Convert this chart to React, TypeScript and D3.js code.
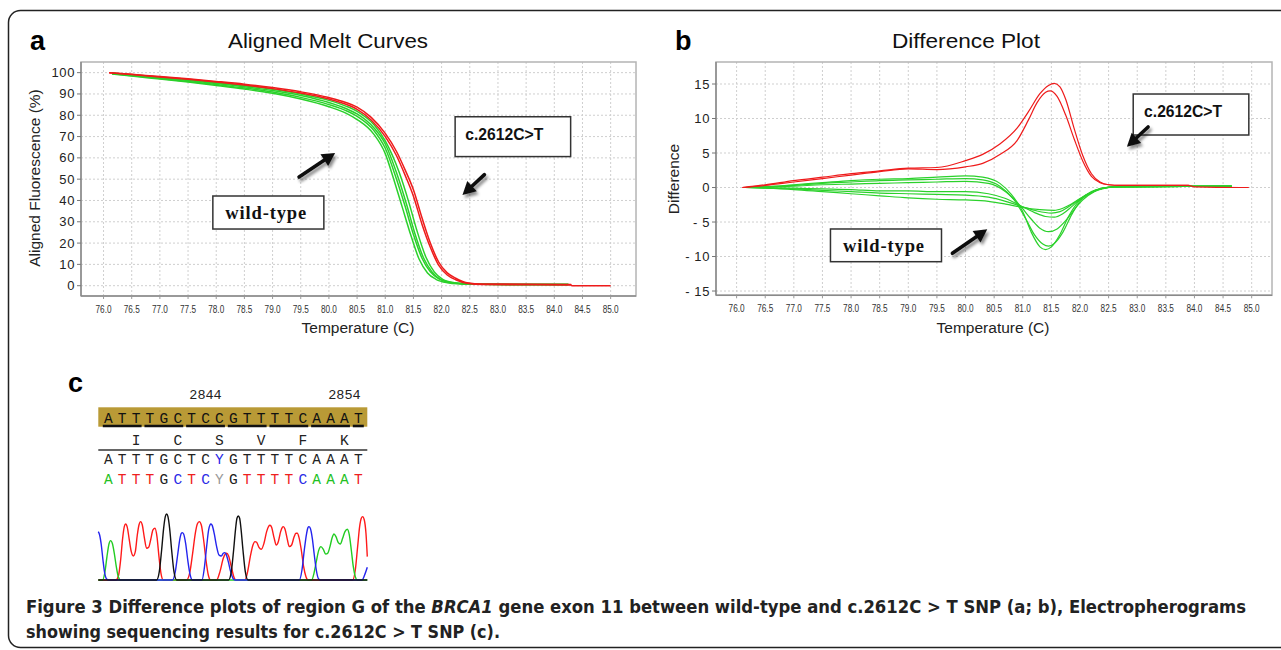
import React from "react";
import * as d3 from "d3";

type Pt = [number, number];

// ---------- axis ticks ----------
const tempTicks = [76.0, 76.5, 77.0, 77.5, 78.0, 78.5, 79.0, 79.5, 80.0, 80.5, 81.0, 81.5, 82.0, 82.5, 83.0, 83.5, 84.0, 84.5, 85.0];
const meltTicks = [0, 10, 20, 30, 40, 50, 60, 70, 80, 90, 100];
const diffTicks = [-15, -10, -5, 0, 5, 10, 15];

// ---------- panel a: aligned melt curves ----------
const meltWild1: Pt[] = [[76.15,99.4],[76.5,98.4],[77,97.0],[77.5,95.6],[78,94.0],[78.5,92.3],[79,90.3],[79.5,87.6],[80,84.0],[80.3,81.0],[80.5,78.0],[80.8,71.0],[81.0,62.0],[81.15,50.0],[81.3,37.0],[81.45,24.0],[81.6,12.5],[81.75,6.0],[81.9,3.0],[82.1,1.4],[82.3,0.9],[82.7,0.7],[84.25,0.5]];
const meltWild2: Pt[] = [[76.15,99.6],[76.5,98.6],[77,97.3],[77.5,95.9],[78,94.4],[78.5,92.8],[79,90.9],[79.5,88.4],[80,85.0],[80.3,82.2],[80.5,79.5],[80.8,72.8],[81.0,64.5],[81.2,50.0],[81.35,37.5],[81.5,24.0],[81.65,13.0],[81.8,6.5],[81.95,3.2],[82.15,1.5],[82.35,0.9],[82.7,0.7],[84.25,0.5]];
const meltWild3: Pt[] = [[76.15,99.7],[76.5,98.8],[77,97.6],[77.5,96.3],[78,94.9],[78.5,93.4],[79,91.6],[79.5,89.3],[80,86.0],[80.3,83.2],[80.5,80.6],[80.8,74.0],[81.0,66.5],[81.2,53.0],[81.38,38.0],[81.52,25.0],[81.68,13.0],[81.83,6.5],[81.98,3.0],[82.2,1.4],[82.4,0.9],[82.7,0.7],[84.25,0.5]];
const meltWild4: Pt[] = [[76.15,99.8],[76.5,99.0],[77,97.9],[77.5,96.7],[78,95.3],[78.5,93.9],[79,92.2],[79.5,90.0],[80,87.0],[80.3,84.3],[80.5,81.8],[80.8,75.5],[81.0,68.0],[81.25,53.0],[81.42,39.0],[81.56,26.0],[81.72,13.5],[81.87,6.5],[82.02,3.0],[82.22,1.4],[82.45,0.9],[82.7,0.7],[84.25,0.5]];
const meltMut1: Pt[] = [[76.1,100],[76.5,99.2],[77,98.2],[77.5,97.1],[78,95.9],[78.5,94.6],[79,93.0],[79.5,91.0],[80,88.3],[80.3,86.0],[80.5,83.8],[80.75,79.0],[81.0,71.5],[81.2,63.0],[81.35,54.5],[81.5,45.0],[81.65,32.0],[81.8,20.0],[81.95,11.0],[82.1,6.0],[82.25,3.5],[82.45,1.4],[82.73,0.8],[84.3,0.6]];
const meltMut2: Pt[] = [[76.1,100],[76.5,99.1],[77,98.0],[77.5,96.9],[78,95.6],[78.5,94.2],[79,92.5],[79.5,90.4],[80,87.6],[80.3,85.2],[80.5,82.8],[80.75,77.8],[81.0,70.0],[81.2,61.0],[81.35,52.0],[81.5,42.0],[81.65,29.0],[81.8,18.0],[81.95,9.5],[82.1,5.0],[82.25,2.8],[82.45,1.1],[82.73,0.5],[84.3,0.3],[84.31,0.0],[85.0,0.0]];

// ---------- panel b: difference plot ----------
const diffMut1: Pt[] = [[76.1,0],[76.5,0.4],[77,1.0],[77.5,1.5],[78,2.0],[78.5,2.4],[79,2.8],[79.5,2.9],[80,3.9],[80.3,4.8],[80.6,6.3],[80.9,8.6],[81.1,11.0],[81.3,13.6],[81.45,14.8],[81.55,15.1],[81.65,14.6],[81.75,12.8],[81.9,8.5],[82.05,4.6],[82.2,2.0],[82.35,0.8],[82.5,0.4],[82.7,0.3],[83.9,0.3],[84.0,0.1],[84.95,0.0]];
const diffMut2: Pt[] = [[76.1,0],[76.5,0.3],[77,0.8],[77.5,1.3],[78,1.8],[78.5,2.3],[79,2.7],[79.5,2.6],[80,3.0],[80.3,3.5],[80.6,4.8],[80.9,6.8],[81.1,9.8],[81.25,12.3],[81.4,13.8],[81.48,14.0],[81.6,13.2],[81.75,10.5],[81.9,7.0],[82.05,3.8],[82.2,1.6],[82.35,0.7],[82.5,0.4],[82.7,0.3],[83.9,0.3]];
const diffWild1: Pt[] = [[76.15,0],[76.5,0.1],[77,0.4],[77.5,0.7],[78,1.0],[78.5,1.2],[79,1.3],[79.5,1.5],[80,1.7],[80.3,1.5],[80.6,0.6],[80.8,-1.0],[81.0,-3.5],[81.15,-6.5],[81.3,-8.6],[81.4,-9.0],[81.5,-8.6],[81.65,-6.8],[81.8,-4.2],[82.0,-1.8],[82.2,-0.6],[82.4,-0.1],[82.6,0.1],[84.65,0.2]];
const diffWild2: Pt[] = [[76.15,0],[76.5,0.1],[77,0.3],[77.5,0.6],[78,0.8],[78.5,1.0],[79,1.1],[79.5,1.2],[80,1.3],[80.3,1.1],[80.6,0.2],[80.85,-1.8],[81.05,-4.5],[81.2,-6.8],[81.35,-8.2],[81.45,-8.5],[81.55,-8.1],[81.7,-6.5],[81.85,-4.0],[82.0,-2.0],[82.2,-0.7],[82.4,-0.1],[82.6,0.1],[84.65,0.2]];
const diffWild3: Pt[] = [[76.15,0],[77,0.2],[77.5,0.4],[78,0.5],[78.5,0.6],[79,0.7],[79.5,0.8],[80,0.9],[80.4,0.6],[80.7,-0.6],[80.95,-2.6],[81.15,-4.6],[81.3,-5.9],[81.45,-6.4],[81.6,-6.0],[81.75,-4.8],[81.9,-3.2],[82.05,-1.8],[82.25,-0.6],[82.45,-0.1],[82.6,0.1],[84.65,0.2]];
const diffWild4: Pt[] = [[76.15,0],[76.5,0],[77,-0.1],[77.5,-0.2],[78,-0.3],[78.5,-0.5],[79,-0.5],[79.5,-0.6],[80,-0.6],[80.4,-0.9],[80.7,-1.6],[80.95,-2.6],[81.2,-3.6],[81.4,-4.2],[81.55,-4.3],[81.7,-3.8],[81.85,-2.8],[82.0,-1.7],[82.2,-0.7],[82.4,-0.1],[82.6,0.1],[84.65,0.2]];
const diffWild5: Pt[] = [[76.15,0],[76.5,-0.1],[77,-0.2],[77.5,-0.4],[78,-0.6],[78.5,-0.8],[79,-0.9],[79.5,-1.0],[80,-1.1],[80.4,-1.4],[80.7,-2.0],[81.0,-2.8],[81.25,-3.4],[81.5,-3.7],[81.65,-3.5],[81.8,-2.8],[81.95,-1.9],[82.15,-0.9],[82.35,-0.2],[82.6,0.1],[84.65,0.2]];
const diffWild6: Pt[] = [[76.15,0],[76.5,-0.1],[77,-0.3],[77.5,-0.6],[78,-0.9],[78.5,-1.2],[79,-1.5],[79.5,-1.7],[80,-1.8],[80.4,-2.0],[80.7,-2.4],[81.0,-2.9],[81.3,-3.2],[81.55,-3.3],[81.7,-3.0],[81.85,-2.4],[82.0,-1.6],[82.2,-0.7],[82.4,-0.1],[82.6,0.1],[84.65,0.2]];

// ---------- panel c: sequence ----------
const refSeq = "ATTTGCTCCGTTTTCAAAT".split("");
const readSeq = "ATTTGCTCYGTTTTCAAAT".split("");
const aminoAcids = ["I", "C", "S", "V", "F", "K"];
const aminoIdx = [2, 5, 8, 11, 14, 17];
const codonStart = [0, 3, 6, 9, 12, 15, 18];
const posLabels = ["2844", "2854"];
const posIdx = [7, 17];

// chromatogram traces: [scan, signal]
const traceRed: Pt[] = [[115,0],[168,0],[176,15],[182,60],[188,125],[193,160],[197,168],[202,158],[208,120],[214,85],[220,72],[226,85],[232,135],[237,165],[242,175],[247,165],[253,128],[260,95],[266,98],[272,120],[279,150],[285,155],[291,130],[297,70],[303,20],[310,0],[380,0],[390,25],[398,80],[406,140],[412,168],[418,175],[424,165],[431,120],[438,60],[445,15],[452,0],[470,0],[480,25],[490,65],[496,78],[500,80],[506,72],[514,40],[522,8],[528,0],[555,0],[563,25],[571,70],[579,105],[585,115],[590,113],[597,98],[604,92],[612,110],[620,145],[626,161],[630,164],[635,158],[642,128],[649,105],[655,115],[662,145],[667,158],[670,160],[675,153],[682,122],[688,100],[695,105],[702,128],[708,140],[712,140],[717,128],[724,90],[731,40],[738,10],[745,0],[878,0],[886,30],[893,100],[899,160],[904,185],[908,190],[913,180],[918,140],[922,70]];
const traceGreen: Pt[] = [[115,0],[128,0],[135,25],[141,70],[147,108],[152,118],[157,110],[163,80],[169,40],[175,10],[182,0],[755,0],[762,20],[769,55],[776,88],[783,100],[790,92],[797,78],[803,80],[810,100],[816,125],[822,138],[828,130],[835,112],[841,108],[848,125],[855,145],[862,152],[868,135],[874,90],[880,40],[886,10],[892,0],[922,0]];
const traceBlue: Pt[] = [[115,145],[119,135],[124,105],[129,60],[134,22],[140,3],[146,0],[338,0],[346,25],[353,75],[360,125],[364,140],[367,142],[371,138],[377,110],[384,55],[390,18],[397,0],[426,0],[433,35],[440,100],[446,150],[450,165],[453,168],[457,163],[463,138],[470,100],[477,75],[484,72],[490,80],[494,82],[499,76],[505,55],[512,25],[519,5],[525,0],[718,0],[726,30],[733,90],[740,140],[744,157],[747,160],[751,155],[757,125],[763,75],[769,30],[775,5],[781,0],[906,0],[914,15],[922,38]];
const traceBlack: Pt[] = [[115,0],[290,0],[298,25],[305,90],[311,155],[316,190],[320,198],[324,190],[329,155],[335,90],[342,25],[350,0],[506,0],[514,25],[521,90],[527,155],[531,185],[535,192],[539,185],[543,155],[549,90],[556,25],[564,0],[922,0]];

// ---------- annotations (data units) ----------
const meltMutBox = [82.24, 84.29, 79.3, 60.6];
const meltMutText: Pt = [82.42, 68.3];
const meltWildBox = [77.94, 79.91, 42.1, 26.6];
const meltWildText: Pt = [78.16, 31.3];
const meltArrows = [[79.47, 51.0, 80.11, 62.3], [82.76, 52.1, 82.37, 42.6]];
const diffMutBox = [82.93, 84.95, 13.55, 7.61];
const diffMutText: Pt = [83.12, 10.2];
const diffWildBox = [77.64, 79.58, -6.01, -10.75];
const diffWildText: Pt = [77.86, -9.3];
const diffArrows = [[83.19, 8.77, 82.82, 5.91], [79.77, -9.54, 80.38, -6.06]];

const RED = "#ee1b1b";
const GREEN = "#2bd12b";
const SANS = "'Liberation Sans', Arial, sans-serif";
const NARROW = "'Liberation Sans Narrow', 'Arial Narrow', 'DejaVu Sans Condensed', 'Liberation Sans', sans-serif";
const SERIF = "'Liberation Serif', 'Times New Roman', serif";
const MONO = "'Liberation Mono', 'Courier New', monospace";

const baseColor: Record<string, string> = { A: "#22bf22", T: "#ee2020", G: "#202020", C: "#2a2ae6", Y: "#9a9a9a" };

type Scale = d3.ScaleLinear<number, number>;

function Arrow({ x, y, a }: { x: Scale; y: Scale; a: number[] }) {
  const x1 = x(a[0]), y1 = y(a[1]), x2 = x(a[2]), y2 = y(a[3]);
  const ang = Math.atan2(y2 - y1, x2 - x1);
  const hl = 13, hw = 7;
  const bx = x2 - hl * Math.cos(ang), by = y2 - hl * Math.sin(ang);
  const px = -Math.sin(ang) * hw, py = Math.cos(ang) * hw;
  return (
    <g filter="url(#shadow)">
      <line x1={x1} y1={y1} x2={bx + 2 * Math.cos(ang)} y2={by + 2 * Math.sin(ang)} stroke="#111" strokeWidth={3.6} strokeLinecap="round" />
      <polygon points={`${x2},${y2} ${bx + px},${by + py} ${bx - px},${by - py}`} fill="#111" />
    </g>
  );
}

function Panel(props: {
  x: Scale; y: Scale; yTicks: number[]; fmt: (v: number) => string;
  green: Pt[][]; red: Pt[][]; sw: number;
  title: string; titleX: number; titleW: number; letter: string; letterX: number;
  yLabel: string; yLabelX: number; yLabelY: number; xLabelX: number;
  mutBox: number[]; mutText: Pt; wildBox: number[]; wildText: Pt; arrows: number[][];
}) {
  const { x, y } = props;
  const [x0, x1] = x.range();
  const [y0, y1] = y.range();
  const line = d3.line<Pt>().x(d => x(d[0])).y(d => y(d[1])).curve(d3.curveMonotoneX);
  const box = (b: number[]) => ({ x: x(b[0]), y: y(b[2]), width: x(b[1]) - x(b[0]), height: y(b[3]) - y(b[2]) });
  return (
    <g>
      <text x={props.letterX} y={50} fontFamily={SANS} fontWeight="bold" fontSize={27}>{props.letter}</text>
      <text x={props.titleX} y={48} fontFamily={SANS} fontSize={20.5} textAnchor="middle" fill="#111" textLength={props.titleW} lengthAdjust="spacingAndGlyphs">{props.title}</text>
      {/* grid */}
      {tempTicks.map(t => (
        <line key={"gx" + t} x1={x(t)} x2={x(t)} y1={y1} y2={y0} stroke="#cfcfcf" strokeWidth={1} strokeDasharray="2,2" />
      ))}
      {props.yTicks.map(t => (
        <line key={"gy" + t} x1={x0} x2={x1} y1={y(t)} y2={y(t)} stroke="#cfcfcf" strokeWidth={1} strokeDasharray="2,2" />
      ))}
      {/* frame */}
      <rect x={x0} y={y1} width={x1 - x0} height={y0 - y1} fill="none" stroke="#b4b4b4" strokeWidth={1.5} />
      <line x1={x0} x2={x0} y1={y1} y2={y0} stroke="#8a8a8a" strokeWidth={1.5} />
      <line x1={x0} x2={x1} y1={y0} y2={y0} stroke="#8a8a8a" strokeWidth={1.5} />
      {/* y ticks */}
      {props.yTicks.map(t => (
        <g key={"yt" + t}>
          <line x1={x0 - 4} x2={x0} y1={y(t)} y2={y(t)} stroke="#777" strokeWidth={1} />
          <text x={x0 - 6} y={y(t) + 4.5} fontFamily={SANS} fontSize={13} letterSpacing={0.6} textAnchor="end" fill="#222">{props.fmt(t)}</text>
        </g>
      ))}
      {/* x ticks */}
      {tempTicks.map(t => (
        <g key={"xt" + t}>
          <line x1={x(t)} x2={x(t)} y1={y0} y2={y0 + 3} stroke="#999" strokeWidth={1} />
          <text x={x(t)} y={y0 + 16.5} fontFamily={SANS} fontSize={10} textAnchor="middle" fill="#333" textLength={16} lengthAdjust="spacingAndGlyphs">{t.toFixed(1)}</text>
        </g>
      ))}
      <text x={props.xLabelX} y={333} fontFamily={SANS} fontSize={15.5} textAnchor="middle" fill="#222">Temperature (C)</text>
      <text transform={`translate(${props.yLabelX},${props.yLabelY}) rotate(-90)`} fontFamily={SANS} fontSize={15.5} textAnchor="middle" fill="#222">{props.yLabel}</text>
      {/* curves */}
      {props.green.map((c, i) => (
        <path key={"g" + i} d={line(c) || ""} fill="none" stroke={GREEN} strokeWidth={props.sw} />
      ))}
      {props.red.map((c, i) => (
        <path key={"r" + i} d={line(c) || ""} fill="none" stroke={RED} strokeWidth={props.sw} />
      ))}
      {/* annotations */}
      <rect {...box(props.mutBox)} fill="#fff" stroke="#333" strokeWidth={1.5} />
      <text x={x(props.mutText[0])} y={y(props.mutText[1])} fontFamily={SANS} fontWeight="bold" fontSize={16.5} fill="#111" textLength={78} lengthAdjust="spacingAndGlyphs">c.2612C&gt;T</text>
      <rect {...box(props.wildBox)} fill="#fff" stroke="#333" strokeWidth={1.5} />
      <text x={x(props.wildText[0])} y={y(props.wildText[1])} fontFamily={SERIF} fontWeight="bold" fontSize={18.5} fill="#111" textLength={81} lengthAdjust="spacing">wild-type</text>
      {props.arrows.map((a, i) => <Arrow key={"a" + i} x={x} y={y} a={a} />)}
    </g>
  );
}

function Sequence() {
  const lx = d3.scalePoint<number>().domain(refSeq.map((_, i) => i)).range([108.3, 358.3]);
  const cx = d3.scaleLinear().domain([115, 922]).range([98.3, 367.3]);
  const cy = d3.scaleLinear().domain([0, 200]).range([580, 513.3]);
  const line = d3.line<Pt>().x(d => cx(d[0])).y(d => cy(d[1])).curve(d3.curveMonotoneX);
  const barL = cx(115), barR = cx(922);
  const fs = 14.5;
  return (
    <g>
      <text x={68} y={392} fontFamily={SANS} fontWeight="bold" fontSize={27}>c</text>
      {posLabels.map((p, i) => (
        <text key={p} x={lx(posIdx[i])} y={399} fontFamily={MONO} fontSize={13.5} textAnchor="middle" fill="#222">{p}</text>
      ))}
      <rect x={barL} y={407.3} width={barR - barL} height={19.4} fill="#b99a36" />
      {refSeq.map((b, i) => (
        <text key={"r" + i} x={lx(i)} y={422.5} fontFamily={MONO} fontSize={fs} textAnchor="middle" fill="#111">{b}</text>
      ))}
      {codonStart.map(s => {
        const e = Math.min(s + 2, refSeq.length - 1);
        return <line key={"u" + s} x1={(lx(s) as number) - 5.5} x2={(lx(e) as number) + 5.5} y1={426} y2={426} stroke="#111" strokeWidth={2.6} />;
      })}
      {aminoAcids.map((a, i) => (
        <text key={"aa" + i} x={lx(aminoIdx[i])} y={445} fontFamily={MONO} fontSize={fs} textAnchor="middle" fill="#222">{a}</text>
      ))}
      <line x1={barL} x2={barR} y1={450} y2={450} stroke="#333" strokeWidth={1.5} />
      {readSeq.map((b, i) => (
        <text key={"k" + i} x={lx(i)} y={463.5} fontFamily={MONO} fontSize={fs} textAnchor="middle" fill={b === "Y" ? "#2a2ae6" : "#222"}>{b}</text>
      ))}
      {readSeq.map((b, i) => (
        <text key={"c" + i} x={lx(i)} y={483.5} fontFamily={MONO} fontSize={fs} textAnchor="middle" fill={baseColor[b]}>{b}</text>
      ))}
      <path d={line(traceRed) || ""} fill="none" stroke="#ff1a1a" strokeWidth={1.4} />
      <path d={line(traceGreen) || ""} fill="none" stroke="#22cc22" strokeWidth={1.4} />
      <path d={line(traceBlue) || ""} fill="none" stroke="#2424ee" strokeWidth={1.4} />
      <path d={line(traceBlack) || ""} fill="none" stroke="#111" strokeWidth={1.4} />
    </g>
  );
}

export default function App() {
  const meltX = d3.scaleLinear().domain([75.6, 85.45]).range([81, 636]);
  const meltY = d3.scaleLinear().domain([-4.84, 105]).range([296, 62]);
  const diffX = d3.scaleLinear().domain([75.64, 85.355]).range([716, 1272]);
  const diffY = d3.scaleLinear().domain([-15.62, 18.19]).range([295.3, 62]);
  return (
    <svg width={1281} height={650} style={{ position: "absolute", left: 0, top: 0, background: "#fff" }}>
      <defs>
        <filter id="shadow" x="-50%" y="-50%" width="200%" height="200%">
          <feDropShadow dx={2} dy={3} stdDeviation={1.6} floodColor="#000" floodOpacity={0.45} />
        </filter>
      </defs>
      <rect x={0} y={0} width={1281} height={650} fill="#fff" />
      <rect x={8.5} y={10.5} width={1300} height={637} rx={12} fill="none" stroke="#222" strokeWidth={1.5} />
      <Panel x={meltX} y={meltY} yTicks={meltTicks} fmt={v => String(v)}
        green={[meltWild1, meltWild2, meltWild3, meltWild4]} red={[meltMut1, meltMut2]} sw={1.5}
        title="Aligned Melt Curves" titleX={328} titleW={200} letter="a" letterX={30}
        yLabel="Aligned Fluorescence (%)" yLabelX={40} yLabelY={178} xLabelX={358}
        mutBox={meltMutBox} mutText={meltMutText} wildBox={meltWildBox} wildText={meltWildText} arrows={meltArrows} />
      <Panel x={diffX} y={diffY} yTicks={diffTicks} fmt={v => (v < 0 ? `- ${Math.abs(v)}` : String(v))}
        green={[diffWild1, diffWild2, diffWild3, diffWild4, diffWild5, diffWild6]} red={[diffMut1, diffMut2]} sw={1.2}
        title="Difference Plot" titleX={966} titleW={148} letter="b" letterX={675}
        yLabel="Difference" yLabelX={679} yLabelY={179} xLabelX={993}
        mutBox={diffMutBox} mutText={diffMutText} wildBox={diffWildBox} wildText={diffWildText} arrows={diffArrows} />
      <Sequence />
      <text x={26} y={613} fontFamily={NARROW} fontSize={17} fontWeight="bold" fill="#222" textLength={1220} lengthAdjust="spacingAndGlyphs">
        <tspan>Figure 3</tspan>
        <tspan> Difference plots of region G of the </tspan>
        <tspan fontStyle="italic">BRCA1</tspan>
        <tspan> gene exon 11 between wild-type and c.2612C &gt; T SNP (a; b), Electropherograms</tspan>
      </text>
      <text x={26} y={638} fontFamily={NARROW} fontSize={17} fontWeight="bold" fill="#222" textLength={474} lengthAdjust="spacingAndGlyphs">
        showing sequencing results for c.2612C &gt; T SNP (c).
      </text>
    </svg>
  );
}
